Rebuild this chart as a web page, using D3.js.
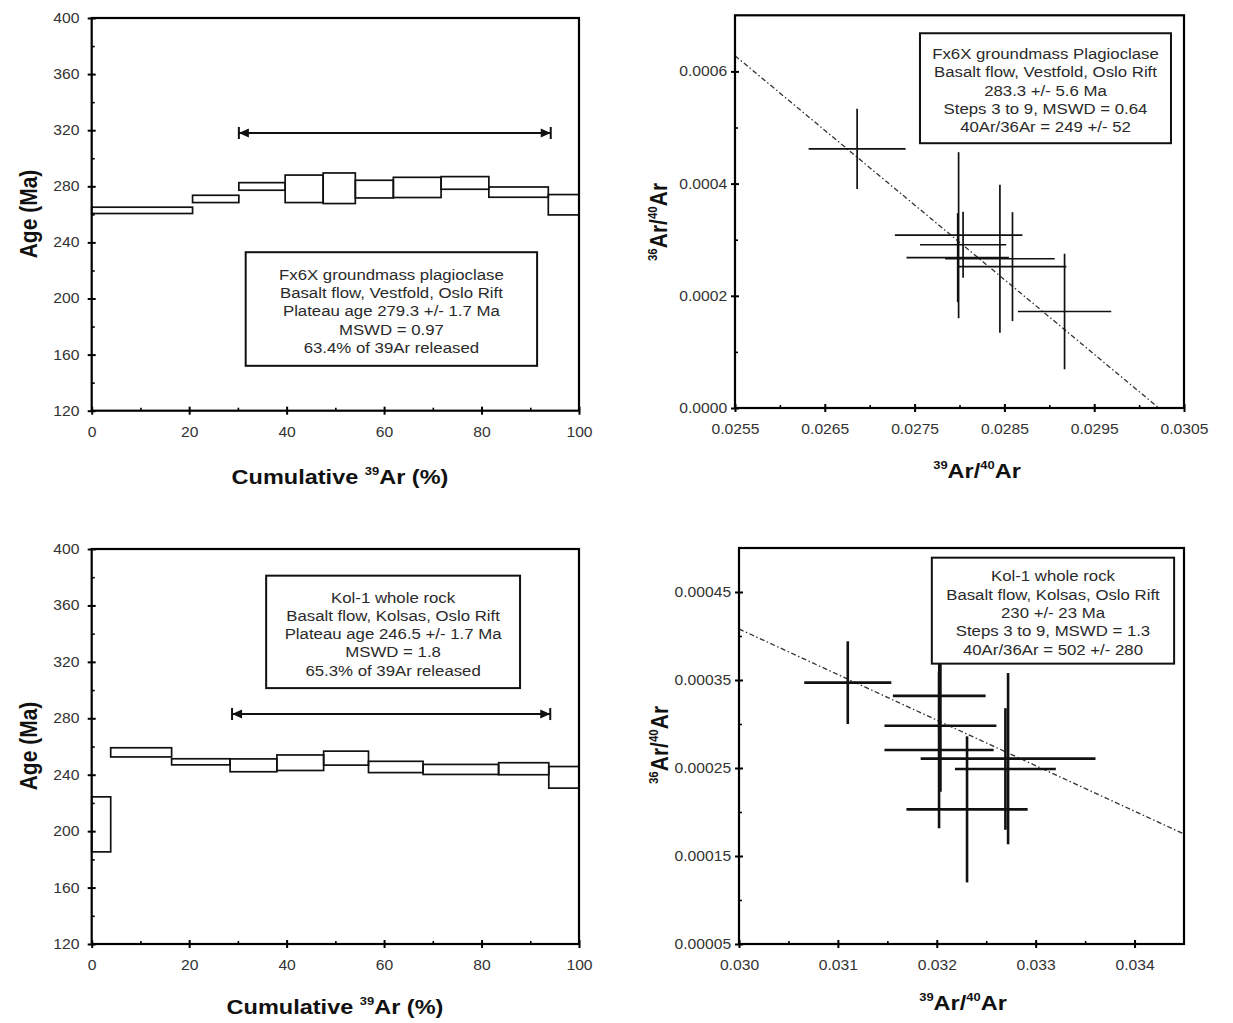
<!DOCTYPE html>
<html><head><meta charset="utf-8">
<script src="https://cdn.jsdelivr.net/npm/d3@7"></script>
<style>
body{margin:0;background:#fff;}
svg text{font-family:"Liberation Sans",Arial,sans-serif;}
</style></head><body>
<svg id="c" width="1233" height="1023"></svg>
<script>
// ---------- DATA ----------
// Fx6X age spectrum (cumulative 39Ar %, step age envelopes in Ma)
const fxCum = [0, 20.7, 30.2, 39.7, 47.5, 54.1, 61.9, 71.7, 81.5, 93.7, 100];
const fxAgeHigh = [265.1, 273.6, 282.6, 288.0, 289.5, 284.3, 286.4, 286.9, 279.5, 274.1];
const fxAgeLow  = [260.6, 268.4, 277.2, 268.4, 267.7, 271.7, 272.0, 277.9, 272.2, 259.6];
const fxPlateau = [30.2, 94.2];
const fxPlateauAge = 318;
const fxSpecText = ["Fx6X groundmass plagioclase", "Basalt flow, Vestfold, Oslo Rift",
  "Plateau age 279.3 +/- 1.7 Ma", "MSWD = 0.97", "63.4% of 39Ar released"];

// Kol-1 age spectrum
const kolCum = [0, 3.9, 16.4, 28.4, 38.0, 47.6, 56.8, 68.0, 83.5, 93.8, 100];
const kolAgeHigh = [224.3, 259.1, 251.3, 251.2, 254.0, 256.7, 249.5, 247.3, 248.5, 245.8];
const kolAgeLow  = [185.3, 252.6, 247.0, 242.1, 243.0, 246.8, 241.5, 240.2, 240.0, 230.5];
const kolPlateau = [28.8, 94.1];
const kolPlateauAge = 283;
const kolSpecText = ["Kol-1 whole rock", "Basalt flow, Kolsas, Oslo Rift",
  "Plateau age 246.5 +/- 1.7 Ma", "MSWD = 1.8", "65.3% of 39Ar released"];

// Spectrum axis ticks
const specXMajor = [0, 20, 40, 60, 80, 100];
const specXMinor = [10, 30, 50, 70, 90];
const specYMajor = [120, 160, 200, 240, 280, 320, 360, 400];
const specYMinor = [140, 180, 220, 260, 300, 340, 380];

// Fx6X inverse isochron
const fxIsoX    = [0.02686, 0.02799, 0.02804, 0.02798, 0.02845, 0.02859, 0.02917];
const fxIsoXErr = [0.00054, 0.00071, 0.00048, 0.00057, 0.00061, 0.00060, 0.00052];
const fxIsoY    = [0.000462, 0.000308, 0.000291, 0.000268, 0.000266, 0.000252, 0.000172];
const fxIsoYErr = [0.0000715, 0.000148, 0.0000588, 0.0000793, 0.000132, 0.0000971, 0.000103];
const fxLineX = [0.0255, 0.03022];
const fxLineY = [0.000628, 0];
const fxIsoText = ["Fx6X groundmass Plagioclase", "Basalt flow, Vestfold, Oslo Rift",
  "283.3 +/- 5.6 Ma", "Steps 3 to 9, MSWD = 0.64", "40Ar/36Ar = 249 +/- 52"];
const fxIsoXMajor = [0.0255, 0.0265, 0.0275, 0.0285, 0.0295, 0.0305];
const fxIsoXMinor = [0.0260, 0.0270, 0.0280, 0.0290, 0.0300];
const fxIsoYMajor = [0, 0.0002, 0.0004, 0.0006];
const fxIsoYMinor = [0.0001, 0.0003, 0.0005];

// Kol-1 inverse isochron
const kolIsoX    = [0.03110, 0.032025, 0.032037, 0.032023, 0.032721, 0.032694, 0.032306];
const kolIsoXErr = [0.00044, 0.000469, 0.000566, 0.000552, 0.000884, 0.00051, 0.000613];
const kolIsoY    = [0.000347, 0.000332, 0.000298, 0.0002705, 0.0002606, 0.0002489, 0.000203];
const kolIsoYErr = [0.000047, 0.0000424, 0.000075, 0.000089, 0.0000973, 0.0000691, 0.000083];
const kolLineX = [0.030, 0.0345];
const kolLineY = [0.000408, 0.000175];
const kolIsoText = ["Kol-1 whole rock", "Basalt flow, Kolsas, Oslo Rift",
  "230 +/- 23 Ma", "Steps 3 to 9, MSWD = 1.3", "40Ar/36Ar = 502 +/- 280"];
const kolIsoXMajor = [0.030, 0.031, 0.032, 0.033, 0.034];
const kolIsoXMinor = [0.0305, 0.0315, 0.0325, 0.0335];
const kolIsoYMajor = [0.00005, 0.00015, 0.00025, 0.00035, 0.00045];
const kolIsoYMinor = [0.0001, 0.0002, 0.0003, 0.0004];

// ---------- DRAWING ----------
const FONT = '"Liberation Sans", Arial, sans-serif';
const SX = 1.12;
const svg = d3.select("#c");

function richText(g, x, y, parts, size, rotate) {
  const t = g.append("text")
    .attr("transform", `translate(${x},${y}) scale(${SX},1)` + (rotate ? " rotate(-90)" : ""))
    .attr("text-anchor", "middle").attr("font-size", size).attr("font-weight", "bold")
    .attr("fill", "#111").attr("font-family", FONT);
  let shifted = false;
  parts.forEach(p => {
    const ts = t.append("tspan").text(p.t);
    if (p.sup) { ts.attr("font-size", size * 0.55).attr("dy", shifted ? 0 : -size * 0.42); shifted = true; }
    else { if (shifted) ts.attr("dy", size * 0.42); shifted = false; }
  });
  return t;
}

function infoBox(g, x, y, bx, by, lines) {
  const x0 = x(bx[0]), x1 = x(bx[1]), y0 = y(by[0]), y1 = y(by[1]);
  g.append("rect").attr("x", x0).attr("y", y0).attr("width", x1 - x0).attr("height", y1 - y0)
    .attr("fill", "#fff").attr("stroke", "#111").attr("stroke-width", 2);
  const cx = (x0 + x1) / 2, cy = (y0 + y1) / 2 + 2;
  const sp = 18.3;
  lines.forEach((l, i) => {
    g.append("text").attr("transform", `translate(${cx},${cy + (i - 2) * sp + 5.3}) scale(${SX},1)`)
      .attr("text-anchor", "middle").attr("font-size", 15).attr("fill", "#2a2a2a")
      .attr("font-family", FONT).text(l);
  });
}

function axes(g, x, y, xMaj, xMin, yMaj, yMin, xFmt, yFmt, yPad) {
  const [xa, xb] = x.range();
  const yb = y.range()[0], ya = y.range()[1];
  const style = a => {
    a.select(".domain").remove();
    a.attr("font-size", 14).attr("font-family", FONT);
    a.selectAll(".tick line").attr("stroke", "#000").attr("stroke-width", 2);
    a.selectAll(".tick text").attr("fill", "#333").attr("transform", `scale(${SX},1)`);
  };
  // bottom axis: outer labelled ticks, inner major, inner minor
  const bx = g.append("g").attr("transform", `translate(0,${yb})`)
    .call(d3.axisBottom(x).tickValues(xMaj).tickSize(4).tickPadding(12).tickFormat(xFmt));
  style(bx);
  const bxi = g.append("g").attr("transform", `translate(0,${yb})`)
    .call(d3.axisBottom(x).tickValues(xMaj).tickSize(-4).tickFormat(""));
  style(bxi);
  const bxm = g.append("g").attr("transform", `translate(0,${yb})`)
    .call(d3.axisBottom(x).tickValues(xMin).tickSize(-3).tickFormat(""));
  style(bxm); bxm.selectAll(".tick line").attr("stroke-width", 1.6);
  // left axis
  const ly = g.append("g").attr("transform", `translate(${xa},0)`)
    .call(d3.axisLeft(y).tickValues(yMaj).tickSize(4).tickPadding(yPad).tickFormat(yFmt));
  style(ly);
  const lyi = g.append("g").attr("transform", `translate(${xa},0)`)
    .call(d3.axisLeft(y).tickValues(yMaj).tickSize(-4).tickFormat(""));
  style(lyi);
  const lym = g.append("g").attr("transform", `translate(${xa},0)`)
    .call(d3.axisLeft(y).tickValues(yMin).tickSize(-3).tickFormat(""));
  style(lym); lym.selectAll(".tick line").attr("stroke-width", 1.6);
  // frame
  g.append("rect").attr("x", xa).attr("y", ya).attr("width", xb - xa).attr("height", yb - ya)
    .attr("fill", "none").attr("stroke", "#000").attr("stroke-width", 2.2);
}

function drawSpectrum(cfg) {
  const g = svg.append("g");
  const x = d3.scaleLinear().domain([0, 100]).range([cfg.x0, cfg.x1]);
  const y = d3.scaleLinear().domain([120, 400]).range([cfg.y1, cfg.y0]);
  g.selectAll("rect.step").data(d3.range(cfg.high.length)).join("rect").attr("class", "step")
    .attr("x", i => x(cfg.cum[i])).attr("width", i => x(cfg.cum[i + 1]) - x(cfg.cum[i]))
    .attr("y", i => y(cfg.high[i])).attr("height", i => y(cfg.low[i]) - y(cfg.high[i]))
    .attr("fill", "none").attr("stroke", "#111").attr("stroke-width", 1.7);
  // plateau arrow
  const pa = x(cfg.plateau[0]), pb = x(cfg.plateau[1]), py = y(cfg.plateauAge);
  g.append("line").attr("x1", pa).attr("x2", pb).attr("y1", py).attr("y2", py)
    .attr("stroke", "#111").attr("stroke-width", 2);
  [[pa, 1], [pb, -1]].forEach(([px, dir]) => {
    g.append("line").attr("x1", px).attr("x2", px).attr("y1", py - 6).attr("y2", py + 6)
      .attr("stroke", "#111").attr("stroke-width", 2);
    g.append("path").attr("d", `M${px},${py} L${px + dir * 10},${py - 4.5} L${px + dir * 10},${py + 4.5} Z`)
      .attr("fill", "#111");
  });
  infoBox(g, x, y, cfg.box[0], cfg.box[1], cfg.text);
  axes(g, x, y, specXMajor, specXMinor, specYMajor, specYMinor, d3.format("d"), d3.format("d"), 7);
  richText(g, cfg.xtX, cfg.xtY, [{t: "Cumulative "}, {t: "39", sup: true}, {t: "Ar (%)"}], 21, false);
  richText(g, cfg.ytX, cfg.ytY, [{t: "Age (Ma)"}], 21, true);
}

function drawIso(cfg) {
  const g = svg.append("g");
  const x = d3.scaleLinear().domain(cfg.xDom).range([cfg.x0, cfg.x1]);
  const y = d3.scaleLinear().domain(cfg.yDom).range([cfg.y1, cfg.y0]);
  const lineData = cfg.lineX.map((v, i) => [v, cfg.lineY[i]]);
  g.append("path").attr("d", d3.line().x(d => x(d[0])).y(d => y(d[1]))(lineData))
    .attr("fill", "none").attr("stroke", "#333").attr("stroke-width", 1.3)
    .attr("stroke-dasharray", "5,2.5,1.5,2.5");
  const idx = d3.range(cfg.X.length);
  g.selectAll("line.h").data(idx).join("line").attr("class", "h")
    .attr("x1", i => x(cfg.X[i] - cfg.XE[i])).attr("x2", i => x(cfg.X[i] + cfg.XE[i]))
    .attr("y1", i => y(cfg.Y[i])).attr("y2", i => y(cfg.Y[i]))
    .attr("stroke", "#111").attr("stroke-width", cfg.sw);
  g.selectAll("line.v").data(idx).join("line").attr("class", "v")
    .attr("x1", i => x(cfg.X[i])).attr("x2", i => x(cfg.X[i]))
    .attr("y1", i => y(cfg.Y[i] - cfg.YE[i])).attr("y2", i => y(cfg.Y[i] + cfg.YE[i]))
    .attr("stroke", "#111").attr("stroke-width", cfg.sw);
  infoBox(g, x, y, cfg.box[0], cfg.box[1], cfg.text);
  axes(g, x, y, cfg.xMaj, cfg.xMin, cfg.yMaj, cfg.yMin, cfg.xFmt, cfg.yFmt, 3);
  richText(g, cfg.xtX, cfg.xtY, [{t: "39", sup: true}, {t: "Ar/"}, {t: "40", sup: true}, {t: "Ar"}], 21, false);
  richText(g, cfg.ytX, cfg.ytY, [{t: "36", sup: true}, {t: "Ar/"}, {t: "40", sup: true}, {t: "Ar"}], 21, true);
}

drawSpectrum({x0: 91.7, x1: 579, y0: 18, y1: 410.7, cum: fxCum, high: fxAgeHigh, low: fxAgeLow,
  plateau: fxPlateau, plateauAge: fxPlateauAge, box: [[31.6, 91.4], [233, 152]], text: fxSpecText,
  xtX: 340, xtY: 484, ytX: 37, ytY: 214});
drawSpectrum({x0: 91.7, x1: 579, y0: 549, y1: 944, cum: kolCum, high: kolAgeHigh, low: kolAgeLow,
  plateau: kolPlateau, plateauAge: kolPlateauAge, box: [[35.8, 87.9], [381.1, 301.4]], text: kolSpecText,
  xtX: 335, xtY: 1014, ytX: 37, ytY: 746});
drawIso({x0: 735, x1: 1184, y0: 15.3, y1: 408, xDom: [0.0255, 0.0305], yDom: [0, 0.0007],
  X: fxIsoX, XE: fxIsoXErr, Y: fxIsoY, YE: fxIsoYErr, lineX: fxLineX, lineY: fxLineY, sw: 1.7,
  box: [[0.02756, 0.030355], [0.000668, 0.000472]], text: fxIsoText,
  xMaj: fxIsoXMajor, xMin: fxIsoXMinor, yMaj: fxIsoYMajor, yMin: fxIsoYMinor,
  xFmt: d3.format(".4f"), yFmt: d3.format(".4f"), xtX: 977, xtY: 478, ytX: 667, ytY: 222});
drawIso({x0: 739, x1: 1184, y0: 548, y1: 944, xDom: [0.030, 0.0345], yDom: [0.00005, 0.0005],
  X: kolIsoX, XE: kolIsoXErr, Y: kolIsoY, YE: kolIsoYErr, lineX: kolLineX, lineY: kolLineY, sw: 2.6,
  box: [[0.03195, 0.0344], [0.000489, 0.0003686]], text: kolIsoText,
  xMaj: kolIsoXMajor, xMin: kolIsoXMinor, yMaj: kolIsoYMajor, yMin: kolIsoYMinor,
  xFmt: d3.format(".3f"), yFmt: d3.format(".5f"), xtX: 963, xtY: 1010, ytX: 668, ytY: 745});
</script></body></html>
